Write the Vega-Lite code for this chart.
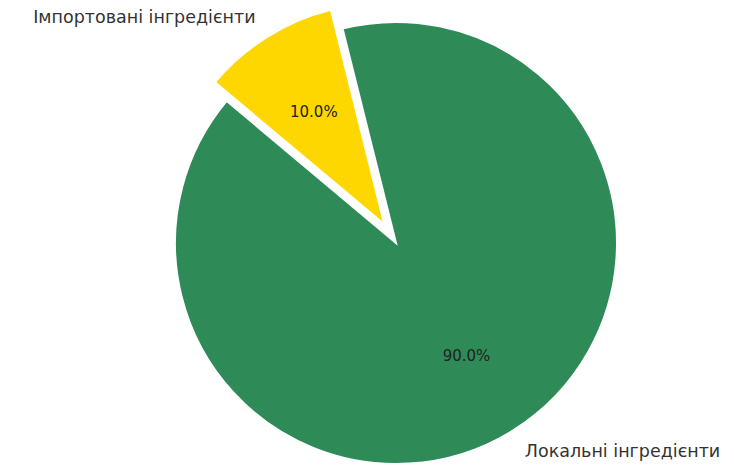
{
  "$schema": "https://vega.github.io/schema/vega-lite/v6.json",
  "width": 676,
  "height": 456,
  "autosize": {"type": "none"},
  "padding": {"left": 58, "top": 15, "right": 0, "bottom": 0},
  "background": "white",
  "view": {"stroke": null},
  "config": {"font": "DejaVu Sans"},
  "data": {
    "values": [
      {"label": "Імпортовані інгредієнти", "share": 0.1, "order": 1},
      {"label": "Локальні інгредієнти", "share": 0.9, "order": 2}
    ]
  },
  "encoding": {
    "theta": {
      "field": "share",
      "type": "quantitative",
      "stack": true,
      "scale": {"domain": [0, 1], "range": [-0.87266, 5.41052]}
    },
    "order": {"field": "order", "type": "quantitative"}
  },
  "layer": [
    {
      "mark": {"type": "arc", "outerRadius": 221, "stroke": "white", "strokeWidth": 2},
      "encoding": {
        "color": {"value": "#2E8B57"},
        "opacity": {"condition": {"test": "datum.order == 1", "value": 0}, "value": 1}
      }
    },
    {
      "mark": {"type": "arc", "outerRadius": 221, "stroke": "white", "strokeWidth": 2, "xOffset": -11.7, "yOffset": -18.7},
      "encoding": {
        "color": {"value": "#FFD700"},
        "opacity": {"condition": {"test": "datum.order == 1", "value": 1}, "value": 0}
      }
    },
    {
      "mark": {"type": "text", "radius": 243, "align": "right", "baseline": "middle", "fontSize": 17.5, "color": "#333333", "xOffset": -11.7, "yOffset": -18.7},
      "encoding": {
        "text": {"condition": {"test": "datum.order == 1", "field": "label"}, "value": ""}
      }
    },
    {
      "mark": {"type": "text", "radius": 243, "align": "left", "baseline": "middle", "fontSize": 17.5, "color": "#333333", "yOffset": 3},
      "encoding": {
        "text": {"condition": {"test": "datum.order == 2", "field": "label"}, "value": ""}
      }
    },
    {
      "mark": {"type": "text", "radius": 133, "align": "center", "baseline": "middle", "fontSize": 15, "color": "#222222", "xOffset": -11.7, "yOffset": -18.7},
      "encoding": {
        "text": {"condition": {"test": "datum.order == 1", "field": "share", "format": ".1%"}, "value": ""}
      }
    },
    {
      "mark": {"type": "text", "radius": 133, "align": "center", "baseline": "middle", "fontSize": 15, "color": "#222222"},
      "encoding": {
        "text": {"condition": {"test": "datum.order == 2", "field": "share", "format": ".1%"}, "value": ""}
      }
    }
  ]
}
